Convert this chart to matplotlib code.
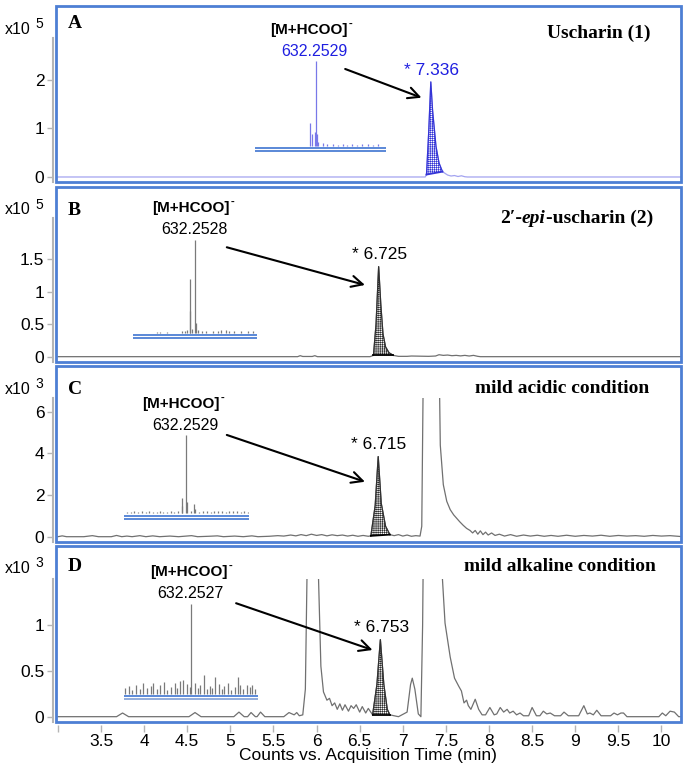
import numpy as np
import matplotlib
matplotlib.use('Agg')
import matplotlib.pyplot as plt
from matplotlib.patches import Rectangle

# ---------------- data ----------------
# Panel A  (x10^5 counts)
time_A = [3.0, 7.26, 7.275, 7.30, 7.325, 7.345, 7.385, 7.42, 7.46, 7.52, 7.56, 7.60,
          7.64, 7.68, 7.72, 7.75, 10.25]
int_A = [0, 0, 0.05, 0.9, 1.96, 1.38, 0.63, 0.29, 0.11, 0.04, 0.02, 0.03,
         0.01, 0.025, 0.005, 0, 0]

# Panel B  (x10^5 counts)
time_B = [3.0, 5.78, 5.81, 5.84, 5.95, 5.98, 6.01, 6.62, 6.66, 6.69, 6.72, 6.745, 6.77,
          6.80, 6.84, 6.89, 6.95, 7.05, 7.10, 7.30, 7.38, 7.42, 7.47, 7.52, 7.57, 7.62,
          7.67, 7.72, 7.77, 7.82, 7.87, 7.90, 10.25]
int_B = [0, 0, 0.015, 0.003, 0.003, 0.015, 0, 0, 0.02, 0.5, 1.385, 0.8, 0.35,
         0.15, 0.06, 0.02, 0.005, 0.005, 0.01, 0.005, 0.01, 0.03, 0.02, 0.025, 0.015, 0.02,
         0.012, 0.02, 0.01, 0.02, 0.005, 0, 0]

# Panel C  (x10^3 counts)
time_C = [3.0, 3.05, 3.10, 3.30, 3.40, 3.47, 3.62, 3.68, 3.74, 3.80, 3.86, 3.95, 4.02,
          4.10, 4.18, 4.30, 4.40, 4.55, 4.62, 4.75, 4.85, 4.92, 5.05, 5.15, 5.25, 5.32,
          5.45, 5.55, 5.62, 5.70, 5.76, 5.82, 5.88, 5.94, 6.00, 6.06, 6.12, 6.18, 6.24,
          6.30, 6.36, 6.42, 6.48, 6.54, 6.60, 6.63, 6.68, 6.715, 6.75, 6.80, 6.85, 6.90,
          6.95, 7.00, 7.05, 7.10, 7.15, 7.20, 7.22, 7.24, 7.42, 7.435, 7.47, 7.51, 7.55,
          7.59, 7.66, 7.70, 7.74, 7.78, 7.81, 7.84, 7.87, 7.90, 7.93, 7.96, 7.99, 8.03,
          8.07, 8.12, 8.18, 8.25, 8.32, 8.40, 8.48, 8.56, 8.64, 8.72, 8.80, 8.90, 9.00,
          9.10, 9.20, 9.30, 9.40, 9.50, 9.60, 9.70, 9.80, 9.90, 10.00, 10.10, 10.25]
int_C = [0, 0.04, 0, 0, 0.05, 0, 0, 0.06, 0, 0.03, 0, 0.05, 0,
         0.04, 0, 0.03, 0, 0.05, 0, 0.02, 0.04, 0, 0.03, 0, 0.04, 0,
         0.02, 0.05, 0.03, 0.08, 0.04, 0.10, 0.05, 0.12, 0.06, 0.10, 0.04, 0.09, 0.05,
         0.08, 0.03, 0.07, 0.02, 0.06, 0.02, 0.04, 1.5, 3.85, 1.6, 0.5, 0.1, 0.05,
         0.1, 0.03, 0.08, 0.02, 0.05, 0.03, 0.5, 9.0, 9.0, 4.4, 2.5, 1.7, 1.3,
         1.05, 0.72, 0.55, 0.4, 0.3, 0.18, 0.3, 0.12, 0.28, 0.1, 0.22, 0.08, 0.18,
         0.06, 0.12, 0.03, 0.10, 0.02, 0.08, 0.03, 0.07, 0.02, 0.06, 0.02, 0.07, 0.02,
         0.06, 0.03, 0.07, 0.02, 0.06, 0.03, 0.05, 0.02, 0.06, 0.03, 0.05, 0]

# Panel D  (x10^3 counts)
time_D = [3.0, 3.68, 3.75, 3.82, 4.52, 4.59, 4.66, 5.04, 5.10, 5.16, 5.20, 5.24, 5.29,
          5.31, 5.35, 5.40, 5.62, 5.68, 5.74, 5.77, 5.80, 5.84, 5.87, 5.89, 5.93, 5.98,
          6.02, 6.05, 6.08, 6.12, 6.15, 6.18, 6.21, 6.24, 6.27, 6.30, 6.33, 6.37, 6.40,
          6.43, 6.46, 6.50, 6.53, 6.57, 6.60, 6.65, 6.70, 6.74, 6.78, 6.82, 6.85, 6.95,
          7.05, 7.09, 7.11, 7.14, 7.18, 7.21, 7.23, 7.25, 7.44, 7.46, 7.49, 7.55, 7.60,
          7.65, 7.68, 7.71, 7.74, 7.76, 7.79, 7.84, 7.88, 7.92, 7.96, 8.01, 8.06, 8.09,
          8.13, 8.17, 8.21, 8.24, 8.28, 8.32, 8.36, 8.40, 8.46, 8.50, 8.55, 8.59, 8.63,
          8.67, 8.71, 8.76, 8.83, 8.87, 8.92, 9.04, 9.10, 9.14, 9.17, 9.21, 9.25, 9.30,
          9.41, 9.45, 9.49, 9.53, 9.56, 9.60, 9.97, 10.01, 10.05, 10.10, 10.15, 10.20, 10.25]
int_D = [0, 0, 0.04, 0, 0, 0.045, 0, 0, 0.05, 0, 0, 0.045, 0,
         0, 0.05, 0, 0, 0.045, 0.02, 0.045, 0.01, 0.02, 0.3, 1.6, 3.0, 3.0,
         1.6, 0.55, 0.27, 0.18, 0.2, 0.12, 0.15, 0.08, 0.14, 0.07, 0.13, 0.06, 0.12,
         0.09, 0.13, 0.05, 0.11, 0.04, 0.09, 0.02, 0.35, 0.84, 0.35, 0.08, 0.02, 0,
         0.05, 0.35, 0.42, 0.3, 0.03, 0, 1.0, 3.0, 3.0, 1.5, 1.02, 0.65, 0.42,
         0.33, 0.28, 0.15, 0.18, 0.12, 0.08, 0.19, 0.08, 0.02, 0.02, 0.10, 0.02, 0.03,
         0.10, 0.05, 0.08, 0.04, 0.06, 0.02, 0.04, 0.01, 0.01, 0.10, 0.01, 0.01, 0.06,
         0.03, 0.04, 0.01, 0.01, 0.05, 0.01, 0.01, 0.12, 0.03, 0.04, 0.02, 0.07, 0.01,
         0.01, 0.04, 0.02, 0.04, 0.04, 0, 0, 0.04, 0.01, 0.06, 0.05, 0, 0]

# integrated peaks
peak_start = [7.275, 6.66, 6.63, 6.65]
peak_end = [7.46, 6.89, 6.85, 6.85]
peak_rt = ['7.336', '6.725', '6.715', '6.753']

# inset mass spectra (relative position across the inset, relative intensity)
spec_pos_A = [0.422, 0.433, 0.458, 0.463, 0.471, 0.48, 0.519, 0.55, 0.595, 0.634, 0.674,
              0.70, 0.74, 0.78, 0.82, 0.86, 0.90, 0.94]
spec_int_A = [0.27, 0.14, 0.16, 1.0, 0.14, 0.05, 0.03, 0.02, 0.02, 0.015, 0.02,
              0.015, 0.02, 0.015, 0.02, 0.02, 0.015, 0.02]
spec_pos_B = [0.19, 0.218, 0.272, 0.394, 0.42, 0.44, 0.458, 0.463, 0.474, 0.503, 0.508,
              0.528, 0.556, 0.59, 0.644, 0.685, 0.71, 0.75, 0.78, 0.82, 0.876, 0.93, 0.97]
spec_int_B = [0.01, 0.018, 0.015, 0.03, 0.02, 0.04, 0.58, 0.24, 0.05, 1.0, 0.11,
              0.04, 0.02, 0.03, 0.025, 0.03, 0.035, 0.04, 0.02, 0.02, 0.02, 0.025, 0.02]
spec_pos_C = [0.02, 0.05, 0.08, 0.11, 0.14, 0.17, 0.20, 0.23, 0.26, 0.286, 0.31, 0.34,
              0.37, 0.40, 0.43, 0.459, 0.464, 0.496, 0.504, 0.53, 0.56, 0.568, 0.60,
              0.63, 0.66, 0.69, 0.72, 0.75, 0.78, 0.81, 0.84, 0.87, 0.90, 0.93, 0.96, 0.99]
spec_int_C = [0.02, 0.015, 0.03, 0.02, 0.025, 0.015, 0.03, 0.02, 0.02, 0.035, 0.015, 0.02,
              0.025, 0.02, 0.03, 0.19, 0.09, 1.0, 0.15, 0.03, 0.12, 0.05, 0.02,
              0.025, 0.03, 0.02, 0.03, 0.025, 0.035, 0.02, 0.03, 0.025, 0.03, 0.02, 0.03, 0.02]
spec_pos_D = [0.01, 0.04, 0.06, 0.09, 0.12, 0.145, 0.17, 0.20, 0.22, 0.25, 0.27, 0.30,
              0.32, 0.35, 0.38, 0.40, 0.42, 0.445, 0.47, 0.49, 0.501, 0.53, 0.55, 0.57,
              0.60, 0.62, 0.64, 0.66, 0.68, 0.71, 0.73, 0.75, 0.78, 0.80, 0.83, 0.85,
              0.87, 0.89, 0.92, 0.94, 0.955, 0.98]
spec_int_D = [0.07, 0.09, 0.05, 0.1, 0.06, 0.12, 0.07, 0.09, 0.12, 0.06, 0.1, 0.13,
              0.05, 0.08, 0.12, 0.07, 0.14, 0.16, 0.11, 0.08, 1.0, 0.12, 0.07, 0.1,
              0.21, 0.06, 0.09, 0.07, 0.19, 0.11, 0.06, 0.09, 0.12, 0.05, 0.08, 0.19,
              0.1, 0.06, 0.1, 0.08, 0.1, 0.06]

ion_label = '[M+HCOO]'
ion_charge = '-'
ion_mass = ['632.2529', '632.2528', '632.2529', '632.2527']
titles = ['Uscharin (1)', None, 'mild acidic condition', 'mild alkaline condition']
letters = ['A', 'B', 'C', 'D']
exponents = ['5', '5', '3', '3']
yticks = [[0, 1, 2], [0, 0.5, 1, 1.5], [0, 2, 4, 6], [0, 0.5, 1]]
xticks = [3.0, 3.5, 4.0, 4.5, 5.0, 5.5, 6.0, 6.5, 7.0, 7.5, 8.0, 8.5, 9.0, 9.5, 10.0]

times = [time_A, time_B, time_C, time_D]
ints = [int_A, int_B, int_C, int_D]
spectra = [(spec_pos_A, spec_int_A), (spec_pos_B, spec_int_B),
           (spec_pos_C, spec_int_C), (spec_pos_D, spec_int_D)]

# ---------------- layout (pixels) ----------------
W, H = 686, 767
fig = plt.figure(figsize=(W / 100, H / 100), dpi=100)
plt.rcParams['hatch.linewidth'] = 0.45
SANS = 'Liberation Sans'
SERIF = 'Liberation Serif'


def fx(px):
    return px / W


def fy(py):
    return 1 - py / H


LEFT, RIGHT = 55.5, 680.5
panel_px = [(5.5, 181.5), (186.5, 362.0), (366.5, 542.0), (546.0, 722.0)]
ylims = [(-0.093, 3.536), (-0.082, 2.618), (-0.255, 8.18), (-0.058, 1.861)]
spine_top = [2.87, 2.13, 6.67, 1.5]
xlim = (2.972, 10.221)

# inset geometry: left, right, base y, top y (px)
inset_px = [(255, 386, 146, 61), (133, 256.7, 333.3, 240),
            (124.3, 249.3, 513.3, 435.3), (124, 257.7, 694, 604)]
ion_px = [(309, 30), (191, 208.3), (180.7, 404), (189.3, 572.3)]
mass_px = [(314.8, 51.7), (194.7, 230), (185.5, 425.7), (189.9, 594)]
arrow_from = [(6.332, 2.227), (4.959, 1.683), (4.959, 4.89), (5.067, 1.237)]
arrow_to = [(7.217, 1.635), (6.561, 1.103), (6.561, 2.64), (6.649, 0.727)]
title_px = [(650.3, 33.3), (653, 223), (649, 388.3), (656.3, 566.7)]
letter_y = [24, 210.7, 389.3, 566.7]
x10_y = [29.3, 210, 389.3, 568.3]

FRAME = '#4d7fd4'
GRAYAX = '#b5b5b5'
BLUE_TXT = '#1f1fe0'

renderer = fig.canvas.get_renderer()

for i in range(4):
    top, bot = panel_px[i]
    ax = fig.add_axes([fx(LEFT), fy(bot), fx(RIGHT - LEFT), (bot - top) / H])
    ax.set_xlim(*xlim)
    ax.set_ylim(*ylims[i])
    for s in ['top', 'right']:
        ax.spines[s].set_visible(False)
    ax.spines['left'].set_position(('outward', 2))
    ax.spines['left'].set_color(GRAYAX)
    ax.spines['left'].set_linewidth(1.5)
    ax.spines['left'].set_bounds(ylims[i][0], spine_top[i])
    ax.spines['bottom'].set_visible(False)
    ax.spines['bottom'].set_position(('outward', 2))
    ax.add_patch(Rectangle((0, 0), 1, 1, transform=ax.transAxes, fill=False,
                           edgecolor=FRAME, lw=2.0, clip_on=False, zorder=5))
    ax.set_yticks(yticks[i])
    ax.set_yticklabels([('%g' % v) for v in yticks[i]], family=SANS, fontsize=12.5)
    ax.tick_params(axis='y', direction='out', length=4, width=1, color=GRAYAX, pad=2)
    if i < 3:
        ax.set_xticks([])
    else:
        ax.set_xticks(xticks)
        ax.set_xticklabels([''] + [('%g' % v) for v in xticks[1:]], family=SANS, fontsize=12.5)
        ax.tick_params(axis='x', direction='out', length=5, width=1, color=GRAYAX, pad=2)
        ax.set_xlabel('Counts vs. Acquisition Time (min)', family=SANS, fontsize=12.5, labelpad=-1)

    t = np.array(times[i])
    y = np.array(ints[i])
    if i == 0:
        lc, pc = '#a3a3f0', '#3434d6'
    else:
        lc, pc = '#707070', '#303030'
    clip = Rectangle((xlim[0], ylims[i][0]), xlim[1] - xlim[0], spine_top[i] - ylims[i][0],
                     transform=ax.transData)
    line, = ax.plot(t, y, color=lc, lw=0.9, zorder=2)
    line.set_clip_path(clip)
    # integrated peak
    m = (t >= peak_start[i]) & (t <= peak_end[i])
    tb = [peak_start[i], peak_end[i]]
    yb = [y[t == peak_start[i]][0], y[t == peak_end[i]][0]]
    base = np.interp(t, tb, yb)
    ax.fill_between(t, base, y, where=m, facecolor='white', edgecolor=pc,
                    hatch='++++++++', lw=0, zorder=3)
    ax.plot(t[m], y[m], color=pc, lw=0.9, zorder=4)
    ax.plot(tb, yb, color=pc if i == 0 else 'black', lw=1.3, zorder=4)
    # retention time label
    apex = y[m].max()
    rt = float(peak_rt[i])
    ax.annotate('* ' + peak_rt[i], xy=(rt, apex), xytext=(0, 8.5), textcoords='offset points',
                ha='center', va='center', family=SANS, fontsize=12.5,
                color=BLUE_TXT if i == 0 else 'black')
    # arrow
    ax.annotate('', xy=arrow_to[i], xytext=arrow_from[i],
                arrowprops=dict(arrowstyle='->', lw=1.5, color='black', mutation_scale=20,
                                shrinkA=0, shrinkB=0))

    # inset spectrum
    l, r, b, tp = inset_px[i]
    hpx = b - tp
    below = 6.5
    iax = fig.add_axes([fx(l), fy(b + below), fx(r - l), (hpx + below) / H])
    iax.set_xlim(0, 1)
    iax.set_ylim(-below / hpx, 1.0)
    iax.axis('off')
    sp, si = spectra[i]
    iax.vlines(sp, 0, si, color='#7878e8' if i == 0 else '#7a7a7a', lw=0.9)
    iax.axhline(-2.2 / hpx, color=FRAME, lw=1.3)
    iax.axhline(-5.2 / hpx, color=FRAME if i < 3 else '#8aa6d8', lw=1.3)

    # labels
    tl = fig.text(fx(ion_px[i][0]), fy(ion_px[i][1]), ion_label, ha='center',
                  va='center', family=SANS, weight='bold', fontsize=11)
    bb = tl.get_window_extent(renderer)
    fig.text(fx(bb.x1 + 1), fy(ion_px[i][1] - 6), ion_charge, ha='left', va='center',
             family=SANS, weight='bold', fontsize=8)
    fig.text(fx(mass_px[i][0]), fy(mass_px[i][1]), ion_mass[i], ha='center', va='center',
             family=SANS, fontsize=11.5, color=BLUE_TXT if i == 0 else 'black')
    fig.text(fx(68), fy(letter_y[i]), letters[i], ha='left', va='center', family=SERIF,
             weight='bold', fontsize=14)
    fig.text(fx(5), fy(x10_y[i]), 'x10', ha='left', va='center', family=SANS, fontsize=11.5)
    fig.text(fx(35), fy(x10_y[i] - 5), exponents[i], ha='left', va='center', family=SANS,
             fontsize=10)

# titles
for i in range(4):
    xr, yc = title_px[i]
    if titles[i] is not None:
        fig.text(fx(xr), fy(yc), titles[i], ha='right', va='center', family=SERIF,
                 weight='bold', fontsize=14)
    else:
        pieces = [('2\u2032-', 'normal'), ('epi', 'italic'), ('-uscharin (2)', 'normal')]
        x = xr
        for txt, st in reversed(pieces):
            tt = fig.text(fx(x), fy(yc), txt, ha='right', va='baseline', family=SERIF,
                          weight='bold', style=st, fontsize=14)
            bb = tt.get_window_extent(renderer)
            x -= bb.width

fig.savefig('out.png', dpi=100)
